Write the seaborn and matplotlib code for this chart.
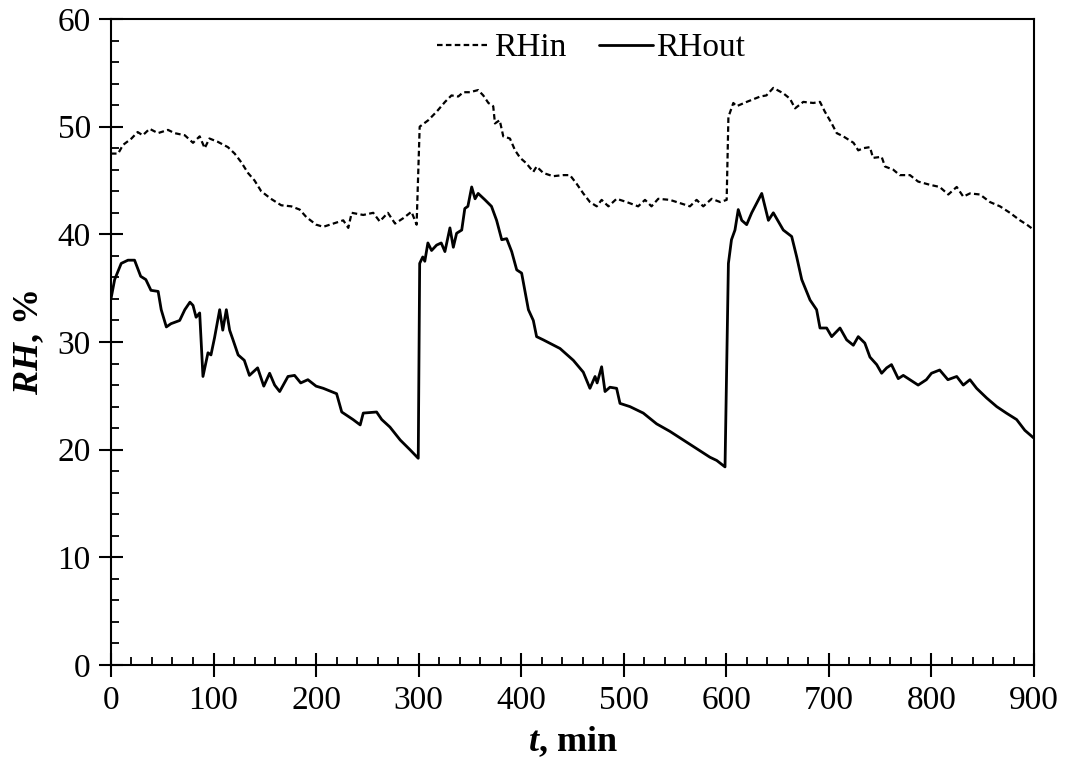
import matplotlib
matplotlib.use("Agg")
import matplotlib.pyplot as plt
import seaborn as sns
import pandas as pd
from matplotlib.ticker import MultipleLocator

# RHin (dashed)
t_in = [0, 7, 11.7, 20, 26, 31, 37.7, 45.8, 55.6, 62, 72, 80, 86.5, 91.4, 96, 104, 114, 120.6,
        127, 133.6, 140, 146.5, 156, 166, 175.8, 184, 190.5, 200, 207, 216.8, 226.5, 231.4,
        234.7, 246, 255.7, 262, 270, 277, 285, 293, 298, 301, 309.4, 317.6, 325.7, 332, 338.6,
        343.5, 350, 358, 363, 368, 372.7, 374.4, 379, 382.5, 389, 394, 399, 405, 411.8, 415,
        421.5, 431, 441, 447.5, 454, 460.5, 467, 473.6, 478.4, 485, 493, 502.8, 514, 520.7,
        527, 533.6, 545, 554.8, 564.5, 571, 577.5, 585.7, 594, 600.3, 602, 606.8, 610, 619.8,
        633, 639, 645.8, 655.5, 662, 667, 675, 684.8, 691.3, 696, 702.7, 707.6, 714, 724,
        728.6, 733.5, 740, 743, 751.4, 754.7, 762.8, 769, 779, 787, 798.5, 808, 816.4, 824.6,
        831, 837.5, 847.3, 857, 866.8, 876.5, 886.3, 893, 900]
rh_in = [47.5, 47.5, 48.3, 48.9, 49.5, 49.2, 49.8, 49.4, 49.7, 49.4, 49.2, 48.5, 49.1, 48.0,
         48.9, 48.6, 48.1, 47.5, 46.7, 45.7, 45.0, 44.0, 43.3, 42.7, 42.6, 42.3, 41.6, 40.9,
         40.7, 41.0, 41.3, 40.6, 42.0, 41.8, 42.0, 41.2, 42.0, 41.0, 41.5, 42.1, 40.9, 50.0,
         50.6, 51.4, 52.3, 52.9, 52.8, 53.2, 53.2, 53.4, 52.9, 52.2, 51.9, 50.3, 50.6, 49.1,
         48.9, 47.8, 47.1, 46.6, 45.8, 46.3, 45.7, 45.4, 45.5, 45.5, 44.7, 43.8, 43.0, 42.6,
         43.2, 42.6, 43.3, 43.0, 42.6, 43.2, 42.6, 43.3, 43.2, 42.9, 42.6, 43.2, 42.6, 43.3,
         43.0, 43.2, 50.9, 52.2, 51.9, 52.3, 52.8, 52.9, 53.6, 53.1, 52.6, 51.7, 52.3, 52.2,
         52.3, 51.4, 50.3, 49.4, 49.1, 48.5, 47.8, 48.0, 48.1, 47.1, 47.2, 46.3, 46.0, 45.5,
         45.5, 44.9, 44.6, 44.4, 43.7, 44.4, 43.5, 43.8, 43.7, 43.0, 42.6, 42.0, 41.3, 40.9,
         40.4]

# RHout (solid)
t_out = [0, 3.6, 10, 16.6, 23, 29, 34, 39, 46, 49, 54, 58.5, 67, 72, 77, 80, 83, 86.5, 89.7,
         94.6, 97.5, 101, 106, 109, 112.5, 115.7, 119, 124, 130, 135, 143, 149, 154.7, 159.6,
         164.5, 172.6, 179, 185, 192, 200, 207, 220, 225, 236, 243, 246, 259, 264, 272, 282,
         291.5, 299.6, 301, 304, 306, 309, 312.6, 317.5, 322, 325.6, 330.5, 333.8, 337, 342,
         345, 348, 351.7, 355, 358, 364.7, 371, 376, 381, 385.8, 390.7, 395.6, 400.4, 407,
         411.8, 415, 421.5, 437.8, 450.8, 460.5, 467, 472, 474, 478.4, 481.7, 486.5, 493,
         496.3, 506, 519, 532, 545, 558, 571, 584, 590.6, 598.7, 602, 605, 608.4, 611.6, 615,
         619.8, 624.7, 629.6, 634.5, 641, 645.8, 655.5, 663.7, 668.6, 673.5, 681.6, 688,
         691.3, 697.8, 702.7, 710.8, 717.3, 723.8, 728.6, 735, 740, 746.6, 751.4, 756.3, 761,
         767.6, 772.5, 779, 787, 795, 800, 808, 816, 824.6, 831, 837.5, 844, 853.8, 863.6,
         873, 883, 891, 899.5]
rh_out = [34.0, 35.8, 37.3, 37.6, 37.6, 36.1, 35.8, 34.8, 34.7, 33.0, 31.4, 31.7, 32.0, 33.0,
          33.7, 33.4, 32.3, 32.7, 26.8, 29.0, 28.8, 30.4, 33.0, 31.1, 33.0, 31.1, 30.2, 28.8,
          28.3, 26.9, 27.6, 25.9, 27.1, 26.0, 25.4, 26.8, 26.9, 26.2, 26.5, 25.9, 25.7, 25.2,
          23.5, 22.8, 22.3, 23.4, 23.5, 22.8, 22.1, 20.9, 20.0, 19.2, 37.3, 37.9, 37.5, 39.2,
          38.5, 39.0, 39.2, 38.4, 40.6, 38.8, 40.1, 40.4, 42.4, 42.6, 44.4, 43.3, 43.8, 43.2,
          42.6, 41.3, 39.5, 39.6, 38.4, 36.7, 36.4, 33.0, 32.0, 30.5, 30.2, 29.4, 28.3, 27.2,
          25.7, 26.8, 26.2, 27.7, 25.4, 25.8, 25.7, 24.3, 24.0, 23.4, 22.4, 21.7, 20.9, 20.1,
          19.3, 19.0, 18.4, 37.3, 39.5, 40.4, 42.3, 41.3, 40.9, 42.0, 42.9, 43.8, 41.3, 42.0,
          40.4, 39.8, 37.9, 35.8, 33.9, 33.0, 31.3, 31.3, 30.5, 31.3, 30.2, 29.7, 30.5, 29.9,
          28.6, 27.9, 27.1, 27.6, 27.9, 26.6, 26.9, 26.5, 26.0, 26.5, 27.1, 27.4, 26.5, 26.8,
          26.0, 26.5, 25.7, 24.8, 24.0, 23.4, 22.8, 21.8, 21.1]

x_ticks = [0, 100, 200, 300, 400, 500, 600, 700, 800, 900]
y_ticks = [0, 10, 20, 30, 40, 50, 60]

sns.set_theme(style="ticks")
plt.rcParams["font.family"] = ["Liberation Serif", "DejaVu Serif"]
plt.rcParams["mathtext.fontset"] = "custom"
plt.rcParams["mathtext.rm"] = "Liberation Serif"
plt.rcParams["mathtext.it"] = "Liberation Serif:italic"
plt.rcParams["mathtext.bf"] = "Liberation Serif:bold"
plt.rcParams["mathtext.bfit"] = "Liberation Serif:italic:bold"
for key in ["text.color", "axes.labelcolor", "xtick.color", "ytick.color",
            "axes.edgecolor", "legend.labelcolor"]:
    plt.rcParams[key] = "black"

df_in = pd.DataFrame({"t": t_in, "RH": rh_in})
df_out = pd.DataFrame({"t": t_out, "RH": rh_out})

fig = plt.figure(figsize=(10.70, 7.69), dpi=100)
ax = fig.add_axes([0.1037, 0.1352, 0.8627, 0.8401])

sns.lineplot(data=df_in, x="t", y="RH", ax=ax, color="black", linewidth=1.6,
             linestyle=(0, (2.5, 1.5)), label="RHin", estimator=None, sort=False)
sns.lineplot(data=df_out, x="t", y="RH", ax=ax, color="black", linewidth=2.0,
             label="RHout", estimator=None, sort=False)

ax.set_xlim(0, 900)
ax.set_ylim(0, 60)
ax.set_xticks(x_ticks)
ax.set_yticks(y_ticks)
ax.xaxis.set_minor_locator(MultipleLocator(20))
ax.yaxis.set_minor_locator(MultipleLocator(2))
ax.tick_params(which="major", direction="inout", length=17, width=1.5, labelsize=24,
               colors="black", labelcolor="black", pad=6)
ax.tick_params(which="minor", direction="in", length=6, width=1.3, colors="black")
for sp in ax.spines.values():
    sp.set_linewidth(1.5)
    sp.set_color("black")

ax.set_xlabel(r"$\mathbfit{t}$, min", fontsize=26, fontweight="bold", labelpad=6,
              color="black")
ax.set_ylabel(r"$\mathbfit{RH}$, %", fontsize=26, fontweight="bold", labelpad=8,
              color="black")

leg = ax.legend(loc="upper center", bbox_to_anchor=(0.52, 1.025), ncol=2, frameon=False,
                fontsize=24, handlelength=1.6, handletextpad=0.1, columnspacing=1.0)
for txt in leg.get_texts():
    txt.set_color("black")

fig.savefig("out.png", dpi=100)
